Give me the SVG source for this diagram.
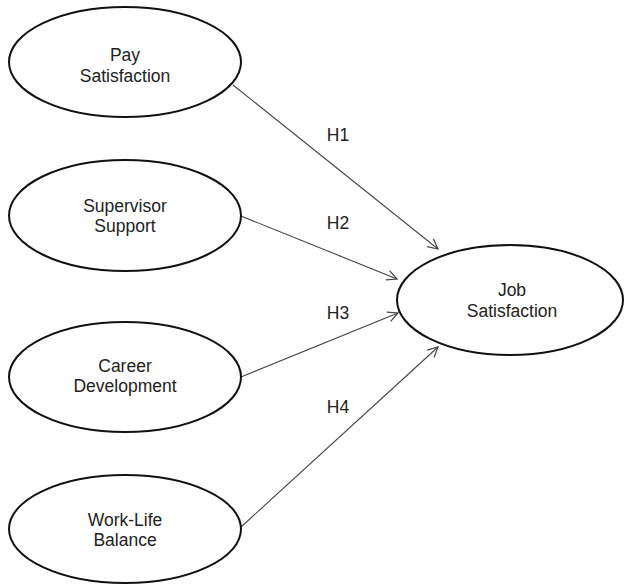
<svg xmlns="http://www.w3.org/2000/svg" width="624" height="585" viewBox="0 0 624 585">
<style>
.node ellipse{fill:#fff;stroke:#111;stroke-width:2}
text{font-family:"Liberation Sans",Arial,sans-serif;font-size:17.5px;fill:#222;text-anchor:middle}
.conn line{stroke:#444;stroke-width:1.1;fill:none}
</style>
<defs>
<marker id="arr" markerUnits="userSpaceOnUse" markerWidth="14" markerHeight="14" refX="11" refY="6" orient="auto" viewBox="0 0 14 12">
<path d="M1,1 L11,6 L1,11" fill="none" stroke="#444" stroke-width="1.2"/>
</marker>
</defs>
<rect width="624" height="585" fill="#fff"/>
<g id="connectors" class="conn">
<line x1="233" y1="85" x2="438" y2="249" marker-end="url(#arr)"/>
<line x1="241" y1="216" x2="397" y2="279" marker-end="url(#arr)"/>
<line x1="241" y1="377" x2="398" y2="313" marker-end="url(#arr)"/>
<line x1="241" y1="527" x2="438" y2="347" marker-end="url(#arr)"/>
</g>
<g id="labels">
<text x="338" y="141">H1</text>
<text x="338" y="229">H2</text>
<text x="338" y="319">H3</text>
<text x="338" y="413">H4</text>
</g>
<g id="pay" class="node">
<ellipse cx="125" cy="62" rx="116" ry="55"/>
<text x="125" y="61">Pay</text>
<text x="125" y="82">Satisfaction</text>
</g>
<g id="supervisor" class="node">
<ellipse cx="125" cy="215.5" rx="116" ry="55.5"/>
<text x="125" y="212">Supervisor</text>
<text x="125" y="232">Support</text>
</g>
<g id="career" class="node">
<ellipse cx="125" cy="377" rx="116" ry="55"/>
<text x="125" y="372">Career</text>
<text x="125" y="392">Development</text>
</g>
<g id="worklife" class="node">
<ellipse cx="125" cy="529" rx="116" ry="54"/>
<text x="125" y="526">Work-Life</text>
<text x="125" y="546">Balance</text>
</g>
<g id="job" class="node">
<ellipse cx="510" cy="300" rx="113" ry="55"/>
<text x="512" y="296">Job</text>
<text x="512" y="317">Satisfaction</text>
</g>
</svg>
